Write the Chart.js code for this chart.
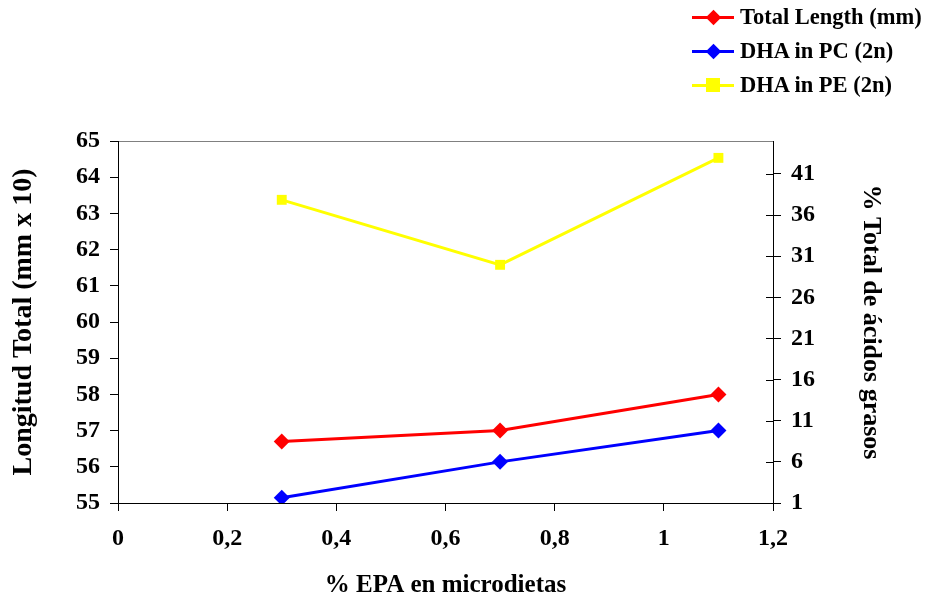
<!DOCTYPE html>
<html>
<head>
<meta charset="utf-8">
<script src="https://cdn.jsdelivr.net/npm/chart.js@4.4.1/dist/chart.umd.min.js"></script>
<style>
  body { margin: 0; background: #fff; }
  #wrap { position: relative; width: 927px; height: 601px; }
  #legend { position: absolute; left: 692px; top: 0; font: bold 22.5px "Liberation Serif", serif; color: #000; }
  .item { position: absolute; left: 0; height: 34px; width: 240px; }
  .line { position: absolute; left: 0; width: 42px; height: 3px; }
  .mark { position: absolute; }
  .txt { position: absolute; left: 48px; top: 0; line-height: 34px; white-space: nowrap; }
</style>
</head>
<body>
<div id="wrap">
  <canvas id="myChart" width="927" height="601"></canvas>
  <div id="legend"></div>
</div>
<script>
const ctx = document.getElementById('myChart');
const legendBox = document.getElementById('legend');

// datos
const epa = [0.3, 0.7, 1.1];
const totalLength = [56.7, 57.0, 58.0];
const dhaPC = [1.65, 6.0, 9.8];
const dhaPE = [37.85, 29.95, 42.95];
const xTicks = [0, 0.2, 0.4, 0.6, 0.8, 1, 1.2];
const rightTicks = [1, 6, 11, 16, 21, 26, 31, 36, 41];

const labels = ['Total Length (mm)', 'DHA in PC (2n)', 'DHA in PE (2n)'];
const colors = ['#ff0000', '#0000ff', '#ffff00'];
const shapes = ['rectRot', 'rectRot', 'rect'];

const font = { family: 'Liberation Serif', weight: 'bold', size: 24 };

function titleFont(size) {
    return { family: 'Liberation Serif', weight: 'bold', size: size };
};

function pts(ys) {
    return epa.map((x, i) => ({ x: x, y: ys[i] }));
};

function comma(v) {
    return String(Math.round(v * 10) / 10).replace('.', ',');
};

// ticks del eje derecho que cruzan el eje
const innerTicks = {
    id: 'innerTicks',
    afterDraw(chart) {
        const s = chart.scales.y2;
        const c = chart.ctx;
        c.save();
        c.strokeStyle = '#000';
        c.lineWidth = 1;
        s.ticks.forEach(t => {
            const y = Math.round(s.getPixelForValue(t.value)) + 0.5;
            c.beginPath();
            c.moveTo(s.left - 7, y);
            c.lineTo(s.left, y);
            c.stroke();
        });
        c.restore();
    }
};

const series = [totalLength, dhaPC, dhaPE];
const axes = ['y', 'y2', 'y2'];

new Chart(ctx, {
    type: 'line',
    data: {
        datasets: series.map((s, i) => ({
            label: labels[i],
            data: pts(s),
            yAxisID: axes[i],
            borderColor: colors[i],
            backgroundColor: colors[i],
            borderWidth: 3,
            pointStyle: shapes[i],
            pointRadius: i === 2 ? 7 : 8,
            pointBorderWidth: 0,
            tension: 0
        }))
    },
    options: {
        responsive: false,
        animation: false,
        layout: { padding: { top: 141, left: 0, right: 0, bottom: 0 } },
        plugins: { legend: { display: false }, tooltip: { enabled: false } },
        scales: {
            x: {
                type: 'linear',
                min: 0,
                max: 1.2,
                afterBuildTicks: (s) => { s.ticks = xTicks.map(v => ({ value: v })); },
                afterFit: (s) => { s.height = 98; },
                grid: { drawOnChartArea: false, tickLength: 8, color: '#000' },
                border: { color: '#000', width: 1 },
                ticks: { color: '#000', font: font, padding: 13, maxRotation: 0, callback: (v) => comma(v) },
                title: { display: true, text: '% EPA en microdietas', color: '#000', font: titleFont(25), padding: { top: 4, bottom: 0 } }
            },
            y: {
                position: 'left',
                min: 55,
                max: 65,
                afterFit: (s) => { s.width = 118; },
                grid: {
                    tickLength: 8,
                    tickColor: '#000',
                    color: (c) => (c.tick && c.tick.value === 65 ? '#808080' : 'rgba(0,0,0,0)')
                },
                border: { color: '#000', width: 1 },
                ticks: { stepSize: 1, color: '#000', font: font, padding: 10 },
                title: { display: true, text: 'Longitud Total (mm x 10)', color: '#000', font: titleFont(28), padding: { top: 7, bottom: 4 } }
            },
            y2: {
                position: 'right',
                min: 1,
                max: 45,
                afterBuildTicks: (s) => { s.ticks = rightTicks.map(v => ({ value: v })); },
                afterFit: (s) => { s.width = 154; },
                grid: { drawOnChartArea: false, tickLength: 8, color: '#000' },
                border: { color: '#000', width: 1 },
                ticks: { color: '#000', font: font, padding: 10 },
                title: { display: true, text: '% Total de ácidos grasos', color: '#000', font: titleFont(26), padding: { top: 41, bottom: 4 } }
            }
        }
    },
    plugins: [innerTicks]
});

// leyenda
labels.forEach((l, i) => {
    const item = document.createElement('div');
    item.className = 'item';
    item.style.top = (i * 34) + 'px';
    const line = document.createElement('div');
    line.className = 'line';
    line.style.top = '15.5px';
    line.style.background = colors[i];
    const mark = document.createElement('div');
    mark.className = 'mark';
    mark.style.background = colors[i];
    if (shapes[i] === 'rect') {
        mark.style.width = '14px'; mark.style.height = '14px';
        mark.style.left = '14px'; mark.style.top = '10px';
    } else {
        mark.style.width = '11px'; mark.style.height = '11px';
        mark.style.left = '15.5px'; mark.style.top = '11.5px';
        mark.style.transform = 'rotate(45deg)';
    }
    const txt = document.createElement('div');
    txt.className = 'txt';
    txt.textContent = l;
    item.appendChild(line);
    item.appendChild(mark);
    item.appendChild(txt);
    legendBox.appendChild(item);
});
</script>
</body>
</html>
